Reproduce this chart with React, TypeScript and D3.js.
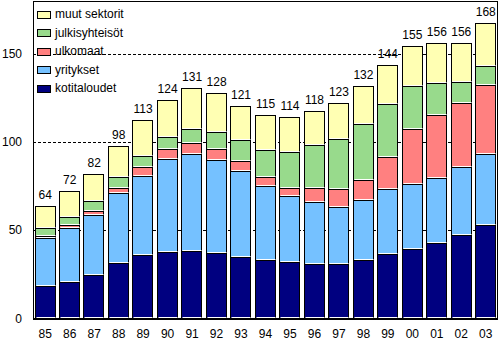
import React from "react";
import * as d3 from "d3";

const years = ["85","86","87","88","89","90","91","92","93","94","95","96","97","98","99","00","01","02","03"];
const kotitaloudet = [18.4,20.6,24.6,31.2,36.0,37.5,38.2,36.9,34.8,33.1,31.8,30.7,30.7,33.1,36.4,39.4,42.8,47.3,53.0];
const yritykset = [27.1,30.5,33.9,39.6,45.0,52.8,55.0,52.9,48.5,41.7,37.5,35.2,32.7,33.9,36.9,36.9,36.7,38.5,40.4];
const ulkomaat = [1.3,2.1,2.3,3.4,4.6,5.7,6.2,6.2,5.9,5.3,4.7,8.0,9.9,11.2,18.2,31.3,36.0,36.5,39.0];
const julkisyhteisot = [4.3,4.5,5.5,5.9,6.2,6.6,8.0,9.7,11.9,15.3,20.1,24.4,28.4,31.8,30.1,24.2,18.0,11.8,11.0];
const muutSektorit = [12.4,14.6,15.7,17.6,20.7,21.2,23.3,22.1,19.3,19.9,20.1,19.5,20.2,21.8,22.2,22.7,22.7,22.1,24.2];
const totals = [64,72,82,98,113,124,131,128,121,115,114,118,123,132,144,155,156,156,168];
const yTicks = [0,50,100,150];

const seriesKeys = ["kotitaloudet","yritykset","ulkomaat","julkisyhteisot","muut"];
const seriesNames = ["kotitaloudet","yritykset","ulkomaat","julkisyhteisöt","muut sektorit"];
const colors = ["#000080","#75C1FF","#FF8080","#98DA8C","#FFFFB3"];

export default function App() {
  const W = 500, H = 341;
  const left = 33, right = 498, top = 1, bottom = 318.3;
  const font = "'Liberation Sans', Arial, sans-serif";

  const table = years.map((y, i) => ({
    year: y,
    kotitaloudet: kotitaloudet[i],
    yritykset: yritykset[i],
    ulkomaat: ulkomaat[i],
    julkisyhteisot: julkisyhteisot[i],
    muut: muutSektorit[i],
  }));
  const stack = d3.stack<any>().keys(seriesKeys)(table);

  const x = d3.scaleBand<string>().domain(years).range([left, right]).paddingInner(0.125).paddingOuter(0.0625);
  const y = d3.scaleLinear().domain([0, 180]).range([bottom, top]);

  const legendRows = [4, 3, 2, 1, 0];

  return (
    <svg width={W} height={H} style={{ position: "absolute", left: 0, top: 0, background: "#fff" }} fontFamily={font}>
      <rect x={0} y={0} width={W} height={H} fill="#fff" />
      {/* gridlines */}
      {yTicks.filter(t => t > 0).map(t => (
        <line key={t} x1={left} x2={right} y1={Math.round(y(t)) + 0.5} y2={Math.round(y(t)) + 0.5}
          stroke="#000" strokeWidth={1} strokeDasharray="3,2" />
      ))}
      {/* bars */}
      {stack.map((s, si) => (
        <g key={si}>
          {s.map((d, i) => {
            const x0 = Math.round(x(years[i])!) + 0.5;
            const w = Math.round(x.bandwidth()) - 1;
            const yt = Math.round(y(d[1])) + 0.5;
            const yb = Math.round(y(d[0])) + 0.5;
            return (
              <g key={i}>
                <rect x={x0} y={yt} width={w} height={yb - yt} fill={colors[si]} stroke="#000" strokeWidth={1} />
                <line x1={x0 + 1} x2={x0 + w} y1={yb - 1} y2={yb - 1} stroke="#fff" strokeWidth={1} />
              </g>
            );
          })}
        </g>
      ))}
      {/* total labels */}
      {totals.map((t, i) => {
        const topVal = stack[stack.length - 1][i][1];
        return (
          <text key={i} x={x(years[i])! + x.bandwidth() / 2} y={y(topVal) - 7} textAnchor="middle" fontSize={12} fill="#000">
            {t}
          </text>
        );
      })}
      {/* frame */}
      <line x1={left} x2={right} y1={top + 0.5} y2={top + 0.5} stroke="#000" />
      <line x1={right - 0.5} x2={right - 0.5} y1={top} y2={bottom} stroke="#000" />
      <line x1={left + 0.5} x2={left + 0.5} y1={top} y2={bottom + 1} stroke="#000" />
      <line x1={left} x2={right} y1={Math.round(bottom) + 1} y2={Math.round(bottom) + 1} stroke="#000" strokeWidth={2} />
      {/* y tick labels */}
      {yTicks.map(t => (
        <text key={t} x={22} y={y(t)} dy="0.35em" textAnchor="end" fontSize={12} fill="#000">{t}</text>
      ))}
      {/* x labels */}
      {years.map(yr => (
        <text key={yr} x={x(yr)! + x.bandwidth() / 2} y={338} textAnchor="middle" fontSize={12} fill="#000">{yr}</text>
      ))}
      {/* legend */}
      {legendRows.map((si, r) => {
        const cy = 14 + r * 18.5;
        return (
          <g key={si}>
            <rect x={37.5} y={Math.round(cy - 3.5) + 0.5} width={13} height={7} fill={colors[si]} stroke="#000" strokeWidth={1} />
            <text x={55} y={cy} dy="0.35em" fontSize={12} fill="#000">{seriesNames[si]}</text>
          </g>
        );
      })}
    </svg>
  );
}
